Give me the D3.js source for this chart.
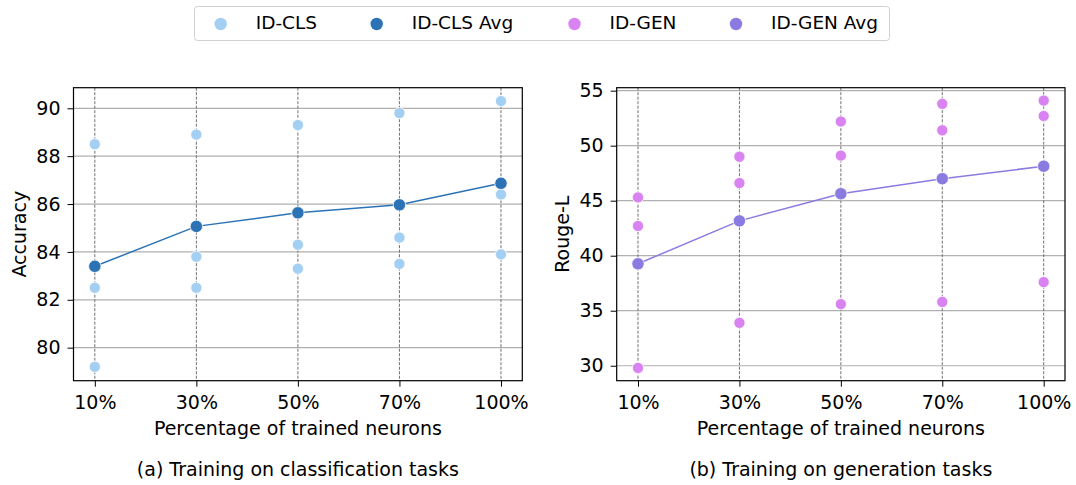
<!DOCTYPE html>
<html>
<head>
<meta charset="utf-8">
<script src="https://cdn.jsdelivr.net/npm/d3@7"></script>
<style>
  body { margin: 0; background: #fff; }
  text { font-family: "DejaVu Sans", sans-serif; fill: #000; }
</style>
</head>
<body>
<div id="chart"></div>
<script>
// categories and values
var categories = ["10%", "30%", "50%", "70%", "100%"];
var clsRuns = [
    [88.5, 82.5, 79.2],
    [88.9, 83.8, 82.5],
    [89.3, 84.3, 83.3],
    [89.8, 84.6, 83.5],
    [90.3, 86.4, 83.9]
];
var genRuns = [
    [45.3, 42.7, 29.8],
    [49.0, 46.6, 33.9],
    [52.2, 49.1, 35.6],
    [53.8, 51.4, 35.8],
    [54.1, 52.7, 37.6]
];
var clsTicks = [80, 82, 84, 86, 88, 90];
var genTicks = [30, 35, 40, 45, 50, 55];
var legendLabels = ["ID-CLS", "ID-CLS Avg", "ID-GEN", "ID-GEN Avg"];
var legendColors = ["#a3cff3", "#2c73b6", "#d982f2", "#8a7be1"];

var W = 1076, H = 485;
var fs = "19px";
var svg = d3.select("#chart").append("svg")
    .attr("width", W).attr("height", H);

var drawPanel = (opt) => {
    var x = d3.scaleLinear().domain([-0.21, 4.21]).range([opt.x0, opt.x1]);
    var y = d3.scaleLinear().domain(opt.ydom).range([opt.y1, opt.y0]);
    var g = svg.append("g");
    var cx = (opt.x0 + opt.x1) / 2;

    // horizontal grid (solid)
    g.selectAll(".hgrid").data(opt.ticks).enter()
        .append("line")
        .attr("x1", opt.x0).attr("x2", opt.x1)
        .attr("y1", d => y(d)).attr("y2", d => y(d))
        .style("stroke", "#b0b0b0").style("stroke-width", 1.2);

    // vertical grid (dashed)
    g.selectAll(".vgrid").data(categories).enter()
        .append("line")
        .attr("x1", (d, i) => x(i)).attr("x2", (d, i) => x(i))
        .attr("y1", opt.y0).attr("y2", opt.y1)
        .style("stroke", "#707070").style("stroke-width", 1)
        .style("stroke-dasharray", "3,1.5");

    var avg = opt.runs.map(r => d3.mean(r));
    var line = d3.line().x((d, i) => x(i)).y(d => y(d));
    g.append("path")
        .attr("d", line(avg))
        .style("fill", "none")
        .style("stroke", opt.avgColor)
        .style("stroke-width", 1.5);

    var pts = [];
    opt.runs.forEach((r, i) => r.forEach(v => pts.push({i: i, v: v})));
    g.selectAll(".pt").data(pts).enter()
        .append("circle")
        .attr("cx", d => x(d.i)).attr("cy", d => y(d.v))
        .attr("r", 5.6)
        .style("fill", opt.ptColor)
        .style("stroke", "#fff").style("stroke-width", 0.8);

    g.selectAll(".avg").data(avg).enter()
        .append("circle")
        .attr("cx", (d, i) => x(i)).attr("cy", d => y(d))
        .attr("r", 6.2)
        .style("fill", opt.avgColor)
        .style("stroke", "#fff").style("stroke-width", 0.8);

    // axes
    var xAxis = d3.axisBottom(x).tickValues(d3.range(categories.length))
        .tickFormat(i => categories[i]).tickSize(6).tickPadding(9);
    var gx = g.append("g").attr("transform", `translate(0,${opt.y1})`).call(xAxis);
    var yAxis = d3.axisLeft(y).tickValues(opt.ticks).tickSize(6).tickPadding(7);
    var gy = g.append("g").attr("transform", `translate(${opt.x0},0)`).call(yAxis);
    [gx, gy].forEach(a => {
        a.select(".domain").remove();
        a.selectAll("line").style("stroke", "#000").style("stroke-width", 1);
        a.selectAll("text").style("font-size", fs).style("fill", "#000")
            .style("font-family", "DejaVu Sans, sans-serif");
    });

    g.append("rect")
        .attr("x", opt.x0).attr("y", opt.y0)
        .attr("width", opt.x1 - opt.x0).attr("height", opt.y1 - opt.y0)
        .style("fill", "none").style("stroke", "#000").style("stroke-width", 1.2);

    g.append("text")
        .attr("x", cx).attr("y", 435)
        .attr("text-anchor", "middle").style("font-size", fs)
        .text("Percentage of trained neurons");

    g.append("text")
        .attr("transform", `translate(${opt.ylabX},${(opt.y0 + opt.y1) / 2})rotate(-90)`)
        .attr("text-anchor", "middle").style("font-size", fs)
        .text(opt.ylabel);

    g.append("text")
        .attr("x", cx).attr("y", 476)
        .attr("text-anchor", "middle").style("font-size", fs)
        .text(opt.caption);
};

drawPanel({
    x0: 73.5, x1: 522.3, y0: 87.7, y1: 380.7,
    ydom: [78.62, 90.86], ticks: clsTicks, runs: clsRuns,
    ptColor: legendColors[0], avgColor: legendColors[1],
    ylabel: "Accuracy", ylabX: 26,
    caption: "(a) Training on classification tasks"
});
drawPanel({
    x0: 616.7, x1: 1065, y0: 87.7, y1: 380.7,
    ydom: [28.64, 55.27], ticks: genTicks, runs: genRuns,
    ptColor: legendColors[2], avgColor: legendColors[3],
    ylabel: "Rouge-L", ylabX: 569,
    caption: "(b) Training on generation tasks"
});

// legend
var legend = svg.append("g");
legend.append("rect")
    .attr("x", 194.5).attr("y", 6.5).attr("width", 695).attr("height", 34).attr("rx", 3)
    .style("fill", "#fff").style("stroke", "#d0d0d0").style("stroke-width", 1);
var legX = [220.7, 376.7, 574.5, 736];
legend.selectAll(".lg").data(legendLabels).enter()
    .append("g")
    .each(function(d, i) {
        var s = d3.select(this);
        s.append("circle").attr("cx", legX[i]).attr("cy", 24).attr("r", 6.2)
            .style("fill", legendColors[i]);
        s.append("text").attr("x", legX[i] + 35).attr("y", 29.3)
            .style("font-size", "18.5px").text(d);
    });
</script>
</body>
</html>
